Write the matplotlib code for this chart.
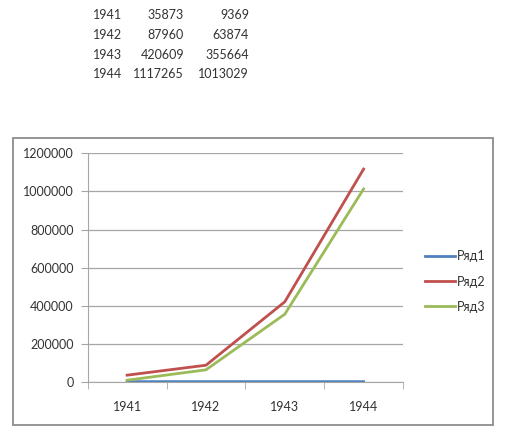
import matplotlib.pyplot as plt
import numpy as np
from matplotlib.patches import Rectangle

plt.rcParams['font.family'] = ['Lato', 'DejaVu Sans']

# data
years = [1941, 1942, 1943, 1944]
series2 = [35873, 87960, 420609, 1117265]
series3 = [9369, 63874, 355664, 1013029]
series_names = ['Ряд1', 'Ряд2', 'Ряд3']
y_ticks = [0, 200000, 400000, 600000, 800000, 1000000, 1200000]

colors = ['#4F81BD', '#C0504D', '#9BBB59']
W, H = 517, 444
grey = '#A6A6A6'
txt = '#333333'

fig = plt.figure(figsize=(W / 100, H / 100), dpi=100)
fig.patch.set_facecolor('white')

# table above the chart
row_y = [15, 35, 55, 74]
for i, yr in enumerate(years):
    yy = 1 - row_y[i] / H
    fig.text(93 / W, yy, str(yr), fontsize=9, va='center', ha='left', color=txt)
    fig.text(184 / W, yy, str(series2[i]), fontsize=9, va='center', ha='right', color=txt)
    fig.text(249 / W, yy, str(series3[i]), fontsize=9, va='center', ha='right', color=txt)

# chart border
fig.patches.append(Rectangle((13 / W, 1 - 425 / H), 480 / W, 287 / H, transform=fig.transFigure,
                             fill=False, edgecolor='#8C8C8C', linewidth=1.3))

ax = fig.add_axes([87.7 / W, 1 - 382 / H, 315.3 / W, 228.7 / H])
x = np.arange(len(years))
ax.plot(x, years, color=colors[0], linewidth=2.0, label=series_names[0])
ax.plot(x, series2, color=colors[1], linewidth=2.0, label=series_names[1])
ax.plot(x, series3, color=colors[2], linewidth=2.0, label=series_names[2])

ax.set_xlim(-0.5, len(years) - 0.5)
ax.set_ylim(0, 1200000)
ax.set_yticks(y_ticks)
ax.set_yticklabels([str(v) for v in y_ticks], fontsize=9, color=txt)
ax.yaxis.grid(True, color=grey, linewidth=0.9)
ax.set_axisbelow(True)

ax.set_xticks(x)
ax.set_xticklabels([str(v) for v in years], fontsize=9, color=txt)
ax.tick_params(axis='x', length=0, pad=14)
ax.set_xticks(np.arange(-0.5, len(years)), minor=True)
ax.tick_params(axis='x', which='minor', length=5, color=grey)
ax.tick_params(axis='y', length=5, color=grey, pad=5)

for s in ['top', 'right']:
    ax.spines[s].set_visible(False)
ax.spines['left'].set_color(grey)
ax.spines['bottom'].set_color(grey)

ax.legend(loc='center left', bbox_to_anchor=(414 / W, 1 - 281.5 / H), bbox_transform=fig.transFigure,
          frameon=False, fontsize=9, handlelength=2.4, handletextpad=0.1, labelspacing=1.05,
          labelcolor=txt)

fig.savefig('out.png', dpi=100)
